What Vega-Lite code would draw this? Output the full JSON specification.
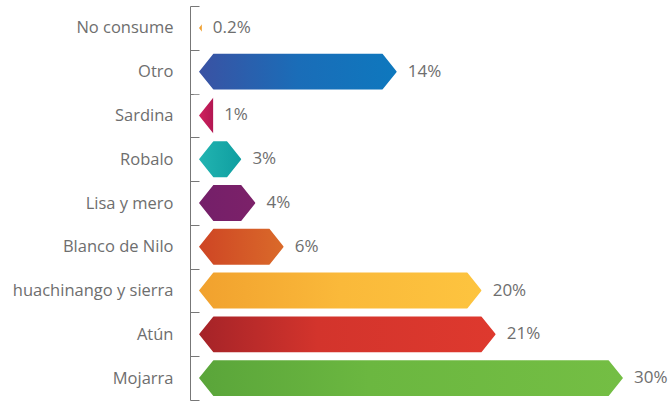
{
  "$schema": "https://vega.github.io/schema/vega-lite/v6.json",
  "autosize": {"type": "none"},
  "padding": {"left": 199, "top": 6, "right": 48, "bottom": 9},
  "width": 424,
  "height": 394,
  "background": "white",
  "config": {"view": {"stroke": null}},
  "data": {"values": [
    {"cat": "No consume", "value": 0.002},
    {"cat": "Otro", "value": 0.14},
    {"cat": "Sardina", "value": 0.01},
    {"cat": "Robalo", "value": 0.03},
    {"cat": "Lisa y mero", "value": 0.04},
    {"cat": "Blanco de Nilo", "value": 0.06},
    {"cat": "huachinango y sierra", "value": 0.20},
    {"cat": "Atún", "value": 0.21},
    {"cat": "Mojarra", "value": 0.30}
  ]},
  "encoding": {
    "y": {"field": "cat", "type": "nominal", "sort": null,
      "scale": {"paddingInner": 0, "paddingOuter": 0},
      "axis": {"title": null, "offset": 9, "tickSize": -9, "tickBand": "extent",
        "labelPadding": 26, "labelFont": "Open Sans", "labelFontSize": 16.5,
        "labelColor": "#6e6e6e", "domainColor": "#777777", "tickColor": "#777777",
        "domainWidth": 1, "tickWidth": 1}},
    "x": {"field": "value", "type": "quantitative", "scale": {"domain": [0, 0.30], "nice": false}, "axis": null}
  },
  "layer": [
    {
      "mark": {"type": "bar", "height": {"band": 0.82}},
      "encoding": {
        "fill": {
          "condition": [
            {"test": "datum.cat === 'No consume'", "value": "#F0A030"},
            {"test": "datum.cat === 'Otro'", "value": {"gradient": "linear", "x1": 0, "x2": 1, "y1": 0, "y2": 0, "stops": [{"offset": 0, "color": "#3A52A3"}, {"offset": 0.5, "color": "#1A6DB8"}, {"offset": 1, "color": "#0E78BE"}]}},
            {"test": "datum.cat === 'Sardina'", "value": {"gradient": "linear", "x1": 0, "x2": 1, "y1": 0, "y2": 0, "stops": [{"offset": 0, "color": "#D0215F"}, {"offset": 1, "color": "#B31752"}]}},
            {"test": "datum.cat === 'Robalo'", "value": {"gradient": "linear", "x1": 0, "x2": 1, "y1": 0, "y2": 0, "stops": [{"offset": 0, "color": "#22B4B1"}, {"offset": 1, "color": "#0F9EA0"}]}},
            {"test": "datum.cat === 'Lisa y mero'", "value": {"gradient": "linear", "x1": 0, "x2": 1, "y1": 0, "y2": 0, "stops": [{"offset": 0, "color": "#741F69"}, {"offset": 1, "color": "#7C2169"}]}},
            {"test": "datum.cat === 'Blanco de Nilo'", "value": {"gradient": "linear", "x1": 0, "x2": 1, "y1": 0, "y2": 0, "stops": [{"offset": 0, "color": "#CE4524"}, {"offset": 1, "color": "#DA6A2A"}]}},
            {"test": "datum.cat === 'huachinango y sierra'", "value": {"gradient": "linear", "x1": 0, "x2": 1, "y1": 0, "y2": 0, "stops": [{"offset": 0, "color": "#F1A12E"}, {"offset": 0.5, "color": "#FAB93A"}, {"offset": 1, "color": "#FDC43F"}]}},
            {"test": "datum.cat === 'Atún'", "value": {"gradient": "linear", "x1": 0, "x2": 1, "y1": 0, "y2": 0, "stops": [{"offset": 0, "color": "#A52328"}, {"offset": 0.4, "color": "#D3342C"}, {"offset": 1, "color": "#DE392E"}]}}
          ],
          "value": {"gradient": "linear", "x1": 0, "x2": 1, "y1": 0, "y2": 0, "stops": [{"offset": 0, "color": "#5AA53A"}, {"offset": 0.4, "color": "#6BB740"}, {"offset": 1, "color": "#74BE44"}]}
        }
      }
    },
    {
      "mark": {"type": "point", "filled": true, "fill": "white", "opacity": 1, "strokeWidth": 0,
        "shape": "M-0.3,-1.15 L0.8,-1.15 L0.8,-1 L0,0 L-0.3,0 Z M-0.3,1.15 L0.8,1.15 L0.8,1 L0,0 L-0.3,0 Z",
        "size": 1290},
      "encoding": {"x": {"datum": 0, "type": "quantitative"}}
    },
    {
      "transform": [{"filter": "datum.value >= 0.02"}],
      "mark": {"type": "point", "filled": true, "fill": "white", "opacity": 1, "strokeWidth": 0,
        "shape": "M0.3,-1.15 L-0.8,-1.15 L-0.8,-1 L0,0 L0.3,0 Z M0.3,1.15 L-0.8,1.15 L-0.8,1 L0,0 L0.3,0 Z",
        "size": 1290}
    },
    {
      "mark": {"type": "text", "align": "left", "baseline": "middle", "dx": 11, "font": "Open Sans", "fontSize": 17, "color": "#6e6e6e"},
      "encoding": {"text": {"field": "value", "type": "quantitative", "format": ".1~%"}}
    }
  ]
}
